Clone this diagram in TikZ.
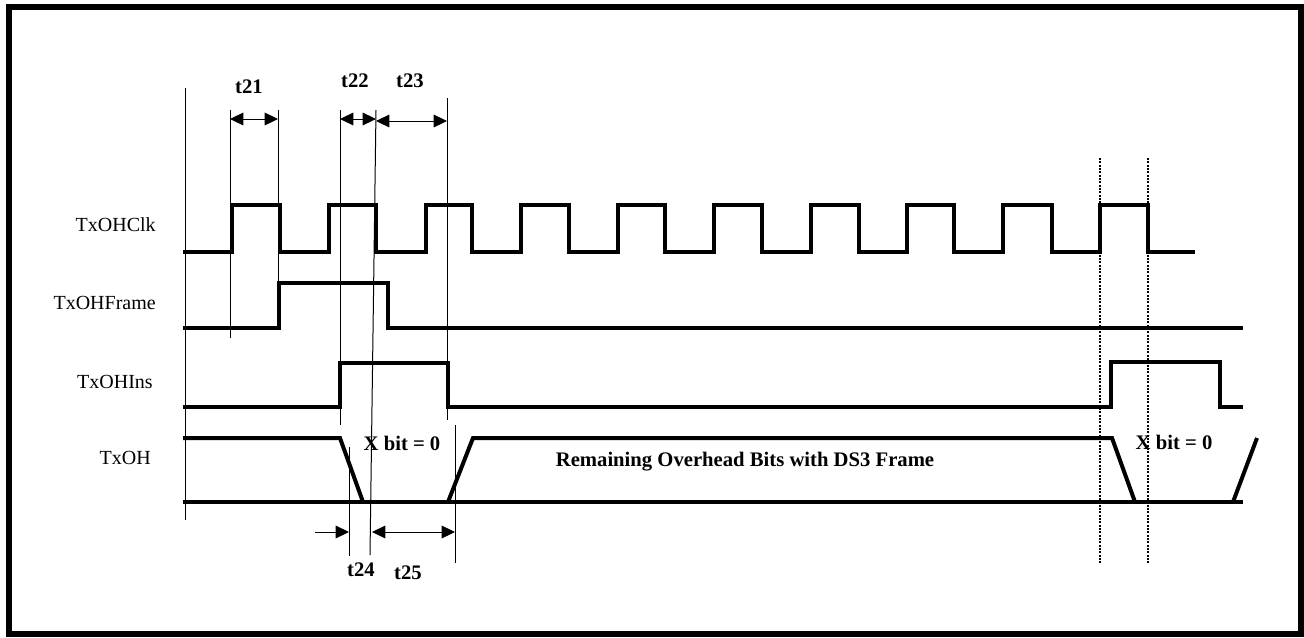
\documentclass[tikz,border=0pt]{standalone}
\usepackage{fontspec}
\setmainfont{Liberation Serif}
\usetikzlibrary{arrows.meta}

\tikzset{
  sigline/.style={line width=3pt, line join=miter},
  tline/.style={line width=0.75pt},
  dimarrow/.style={line width=0.75pt, {Triangle[length=10pt,width=9.5pt]}-{Triangle[length=10pt,width=9.5pt]}},
  onearrow/.style={line width=0.75pt, -{Triangle[length=10pt,width=9.5pt]}},
  markline/.style={line width=1.5pt, dash pattern={on 1.5pt off 1pt}},
  tlabel/.style={font=\bfseries\fontsize{15.5}{18}\selectfont, inner sep=0.75pt},
  siglabel/.style={font=\fontsize{15}{18}\selectfont, anchor=east, inner sep=0.75pt},
}

\begin{document}
\begin{tikzpicture}[x=0.75pt,y=0.75pt,yscale=-1,xscale=1]
    \useasboundingbox (0,0) rectangle (1304,637);

    %Frame
    \draw [line width=4.5pt] (9,7) rectangle (1301,634) ;

    %Straight Lines (time axis)
    \draw [tline] (185,88) -- (185,520) ;
    %Straight Lines (t21)
    \draw [tline] (230,110) -- (230,338) ;
    \draw [tline] (278,110) -- (278,283) ;
    %Straight Lines (t22, t23)
    \draw [tline] (340,110) -- (340,425) ;
    \draw [tline] (376,110) -- (370,555) ;
    \draw [tline] (447,98) -- (447,420) ;
    %Straight Lines (t24, t25)
    \draw [tline] (349,447) -- (349,556) ;
    \draw [tline] (455,425) -- (455,563) ;
    %Dotted Lines
    \draw [markline] (1100,158) -- (1100,563) ;
    \draw [markline] (1148,158) -- (1148,563) ;

    %Arrows
    \draw [dimarrow] (230,119) -- (278,119) ;
    \draw [dimarrow] (340,119) -- (376,119) ;
    \draw [dimarrow] (376,121) -- (447,121) ;
    \draw [onearrow] (315,532) -- (349,532) ;
    \draw [dimarrow] (372,532) -- (455,532) ;

    %TxOHClk
    \draw [sigline] (183,252) -- (232,252) -- (232,205) -- (280,205) -- (280,252)
        -- (329,252) -- (329,205) -- (376,205) -- (376,252)
        -- (426,252) -- (426,205) -- (472,205) -- (472,252)
        -- (521,252) -- (521,205) -- (569,205) -- (569,252)
        -- (618,252) -- (618,205) -- (665,205) -- (665,252)
        -- (714,252) -- (714,205) -- (762,205) -- (762,252)
        -- (811,252) -- (811,205) -- (859,205) -- (859,252)
        -- (907,252) -- (907,205) -- (954,205) -- (954,252)
        -- (1003,252) -- (1003,205) -- (1052,205) -- (1052,252)
        -- (1100,252) -- (1100,205) -- (1148,205) -- (1148,252) -- (1195,252) ;
    %TxOHFrame
    \draw [sigline] (183,328) -- (279,328) -- (279,283) -- (388,283) -- (388,328) -- (1243,328) ;
    %TxOHIns
    \draw [sigline] (183,407) -- (340,407) -- (340,363) -- (448,363) -- (448,407)
        -- (1111,407) -- (1111,362) -- (1220,362) -- (1220,407) -- (1243,407) ;
    %TxOH
    \draw [sigline] (183,438) -- (340,438) -- (363,502) ;
    \draw [sigline] (183,502) -- (1243,502) ;
    \draw [sigline] (448,502) -- (473,438) -- (1112,438) -- (1135,502) ;
    \draw [sigline] (1233,502) -- (1257,438) ;

    % Text Node
    \node [siglabel] (clklbl) at (157,225) {TxOHClk};
    % Text Node
    \node [siglabel] (framelbl) at (157,303) {TxOHFrame};
    % Text Node
    \node [siglabel] (inslbl) at (154,382) {TxOHIns};
    % Text Node
    \node [siglabel] (txohlbl) at (152,458) {TxOH};
    % Text Node
    \node [tlabel] (t21lbl) at (249,87) {t21};
    % Text Node
    \node [tlabel] (t22lbl) at (355,81) {t22};
    % Text Node
    \node [tlabel] (t23lbl) at (410,81) {t23};
    % Text Node
    \node [tlabel] (t24lbl) at (361,570) {t24};
    % Text Node
    \node [tlabel] (t25lbl) at (408,573) {t25};
    % Text Node
    \node [tlabel] (xbitlbl) at (402,443) {X bit = 0};
    % Text Node
    \node [tlabel] (xbitlbltwo) at (1174,442) {X bit = 0};
    % Text Node
    \node [tlabel] (restlbl) at (745,462) {Remaining Overhead Bits with DS3 Frame};

\end{tikzpicture}
\end{document}
